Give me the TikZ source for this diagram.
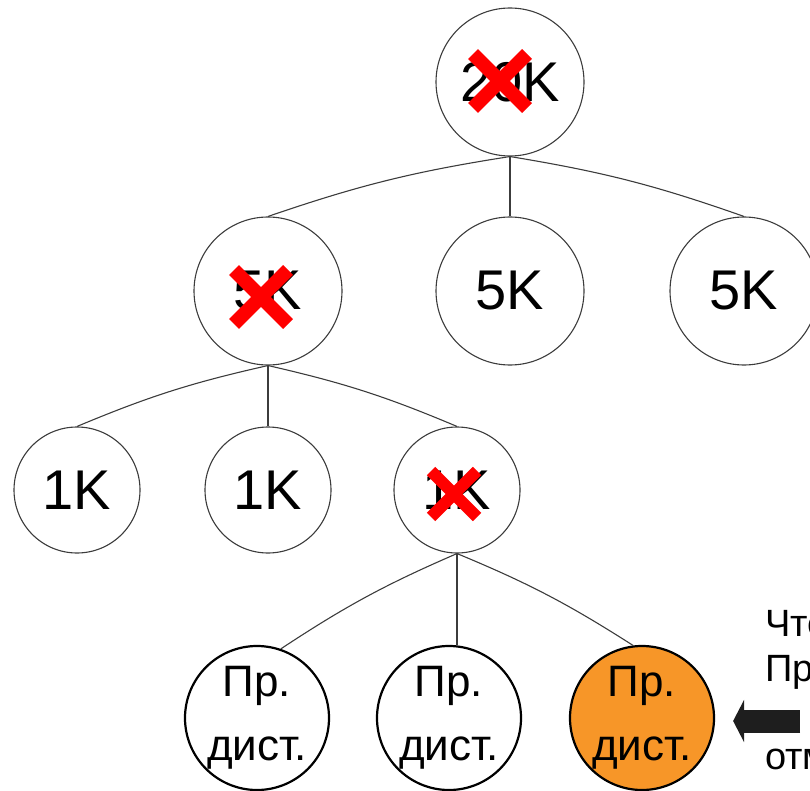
\documentclass[tikz,border=0pt]{standalone}
\usepackage{fontspec}
\setmainfont{Liberation Sans}
\usetikzlibrary{arrows.meta}
\definecolor{hitorange}{RGB}{247,150,40}
\definecolor{edgegray}{RGB}{60,60,60}
\definecolor{pointer}{RGB}{30,30,30}

\begin{document}
\begin{tikzpicture}[x=1pt,y=-1pt,bend angle=5,
  knode/.style={circle,draw=edgegray,line width=1.1pt,minimum size=148pt,inner sep=0pt,font=\fontsize{56}{60}\selectfont},
  sknode/.style={knode,minimum size=126pt},
  dnode/.style={circle,draw=black,line width=2.2pt,minimum size=144pt,inner sep=0pt,align=center,font=\fontsize{44}{64}\selectfont},
  link/.style={edgegray,line width=1.1pt},
  cross/.style={red,line width=14pt},
  note/.style={anchor=base west,inner sep=0pt,font=\fontsize{38}{45}\selectfont}]
\useasboundingbox (0,0) rectangle (810,791);

\node[knode] (top) at (510,82) {20K};
\node[knode] (k5a) at (268,291) {5K};
\node[knode] (k5b) at (510,291) {5K};
\node[knode] (k5c) at (744,291) {5K};
\node[sknode] (k1a) at (77,490) {1K};
\node[sknode] (k1b) at (268,490) {1K};
\node[sknode] (k1c) at (457,490) {1K};
\node[dnode] (d1) at (257,718) {Пр.\\дист.};
\node[dnode] (d2) at (449,718) {Пр.\\дист.};
\node[dnode,fill=hitorange] (d3) at (642,718) {Пр.\\дист.};

\path[link] (top.south) edge[bend right] (k5a.north) edge (k5b.north) edge[bend left] (k5c.north);
\path[link] (k5a.south) edge[bend right] (k1a.north) edge (k1b.north) edge[bend left] (k1c.north);
\path[link] (k1c.south) edge[bend right] (d1.71) edge (k1c.south |- d2.north) edge[bend left] (d3.97);

% crossed out
\draw[cross] ([shift={(-10,-1)}]top.center) +(-27,-27) -- +(27,27) +(-27,27) -- +(27,-27);
\draw[cross] ([shift={(-7,6)}]k5a.center) +(-27,-27) -- +(27,27) +(-27,27) -- +(27,-27);
\draw[cross,line width=12pt] ([shift={(-3,4)}]k1c.center) +(-23,-23) -- +(23,23) +(-23,23) -- +(23,-23);

\coordinate (ptr) at (800,721);
\draw[pointer,line width=23pt,-{Triangle[length=11pt,width=42pt]},shorten >=18pt] (ptr) -- (d3.east |- ptr);

\node[note] (n1) at (765,636) {Чте};
\node[note] (n2) at (765,681) {Пр};
\node[note] (n3) at (765,769) {отм};
\end{tikzpicture}
\end{document}
